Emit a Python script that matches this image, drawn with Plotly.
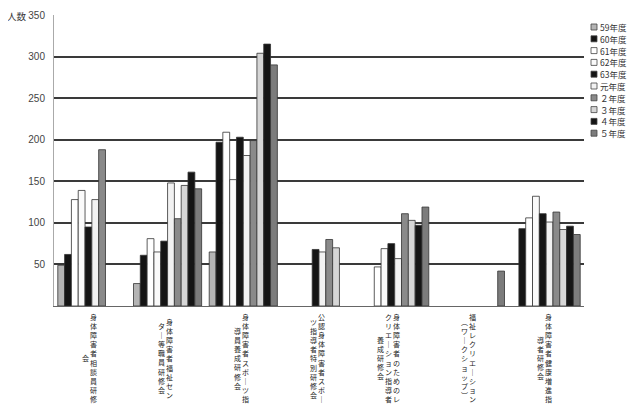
import plotly.graph_objects as go

# ---- data -------------------------------------------------------------
categories = [
    "身体障害者相談員研修\n会",
    "身体障害者福祉セン\nター等職員研修会",
    "身体障害者スポーツ指\n導員養成研修会",
    "公認身体障害者スポー\nツ指導者特別研修会",
    "身体障害者のためのレ\nクリエーション指導者\n養成研修会",
    "福祉レクリエーション\n（ワークショップ）",
    "身体障害者健康増進指\n導者研修会",
]
years = ["59年度", "60年度", "61年度", "62年度", "63年度",
         "元年度", "２年度", "３年度", "４年度", "５年度"]

v59 = [49, 27, 65, None, None, None, None]
v60 = [62, 61, 197, None, None, None, 93]
v61 = [128, 81, 209, None, 47, None, 106]
v62 = [139, 65, 152, None, 69, None, 132]
v63 = [95, 78, 203, 68, 75, None, 111]
vgan = [128, 148, 181, 65, 57, None, 101]
v2 = [188, 105, 199, 80, 111, None, 113]
v3 = [None, 145, 304, 70, 103, None, 92]
v4 = [None, 161, 315, None, 97, None, 96]
v5 = [None, 141, 290, None, 119, 42, 86]
series = [v59, v60, v61, v62, v63, vgan, v2, v3, v4, v5]

y_ticks = [50, 100, 150, 200, 250, 300, 350]
y_title = "人数"

# ---- style -------------------------------------------------------------
colors = ["#b4b4b4", "#151515", "#ffffff", "#fafafa", "#151515",
          "#f2f2f2", "#8a8a8a", "#d6d6d6", "#151515", "#7c7c7c"]
FONT = "Noto Sans CJK JP"

# page body has an 8px margin: draw the figure 8px smaller
OFF = 8
FW, FH = 640 - OFF, 411 - OFF

cat_keys = [c.replace("\n", "") for c in categories]

fig = go.Figure()
for name, vals, col in zip(years, series, colors):
    fig.add_trace(go.Bar(
        x=cat_keys, y=vals, name=name,
        marker=dict(color=col, line=dict(color="#333333", width=0.8)),
        showlegend=False,
    ))

# plot area in screen pixels: x 54..584, y 15..306
L, R, T, B = 54, 584, 15, 306
W, H = R - L, B - T


def px(xp):
    return (xp - L) / W


def py(yp):
    return (B - yp) / H


annotations = []
shapes = []

# vertical (tategaki) category labels
vmap = {"ー": "｜", "（": "︵", "）": "︶"}
for i, lab in enumerate(categories):
    cols = lab.split("\n")
    for j, col in enumerate(cols):
        txt = "<br>".join(vmap.get(ch, ch) for ch in col)
        annotations.append(dict(
            x=i, xref="x", y=py(358), yref="paper",
            text=txt, showarrow=False, xanchor="center", yanchor="middle",
            xshift=2 - 8 * j, align="center", borderpad=0,
            font=dict(family=FONT, size=7, color="#222222"),
        ))

# y axis title
annotations.append(dict(
    x=px(28), xref="paper", y=py(16), yref="paper", text=y_title,
    showarrow=False, xanchor="right", yanchor="middle", borderpad=0,
    font=dict(family=FONT, size=9.5, color="#333333"),
))

# custom compact legend
for k, (name, col) in enumerate(zip(years, colors)):
    yc = 27 + 11.8 * k
    shapes.append(dict(
        type="rect", xref="paper", yref="paper",
        x0=px(591), x1=px(597), y0=py(yc + 3), y1=py(yc - 3),
        fillcolor=col, line=dict(color="#444444", width=0.8),
    ))
    annotations.append(dict(
        x=px(599), xref="paper", y=py(yc), yref="paper", text=name,
        showarrow=False, xanchor="left", yanchor="middle", borderpad=0,
        font=dict(family=FONT, size=8.5, color="#333333"),
    ))

fig.update_layout(
    width=FW, height=FH,
    margin=dict(l=L - OFF, r=640 - R, t=T - OFF, b=411 - B, autoexpand=False),
    paper_bgcolor="white", plot_bgcolor="white",
    barmode="group", bargap=0.1, bargroupgap=0,
    annotations=annotations, shapes=shapes,
    xaxis=dict(
        showticklabels=False, showgrid=False, showline=True,
        linecolor="#666666", linewidth=1, ticks="",
        range=[-0.5, 6.5], automargin=False,
    ),
    yaxis=dict(
        range=[0, 350], tickvals=y_ticks, showgrid=True,
        gridcolor="#3a3a3a", gridwidth=1.5, zeroline=False,
        showline=True, linecolor="#aaaaaa", linewidth=1,
        ticks="", ticklabelstandoff=6, automargin=False,
        tickfont=dict(family="Liberation Sans Narrow, Liberation Sans", size=10, color="#444444"),
    ),
)

fig.write_html("out.html")
